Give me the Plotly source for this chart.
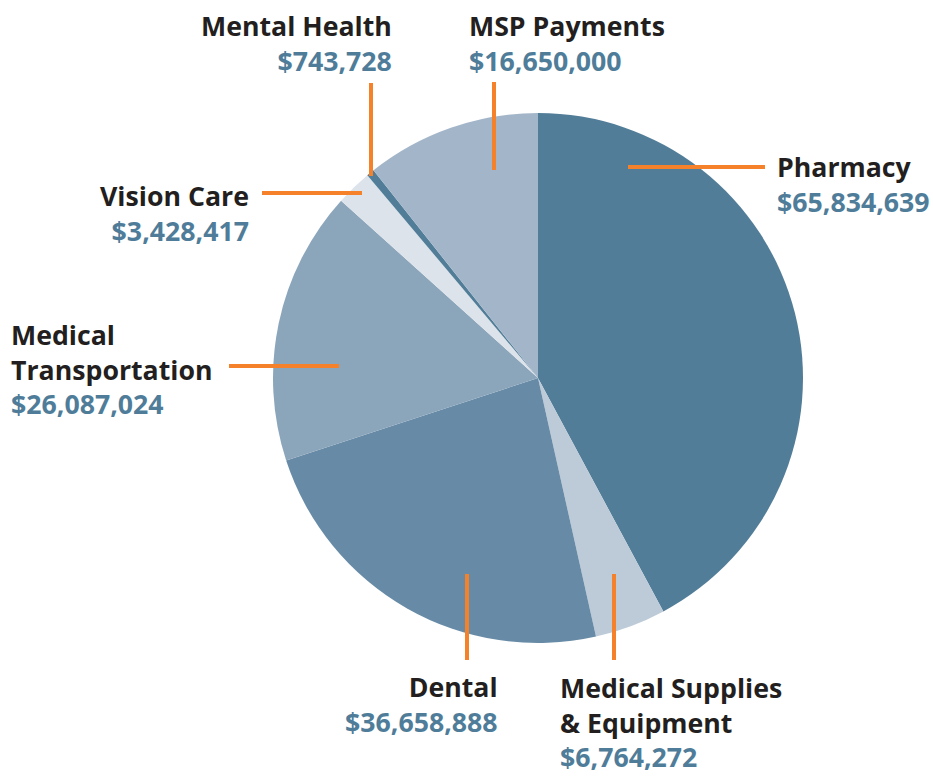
import plotly.graph_objects as go

W, H = 933, 776

categories = ["Pharmacy", "Medical Supplies<br>& Equipment", "Dental", "Medical<br>Transportation",
              "Vision Care", "Mental Health", "MSP Payments"]
values = [65834639, 6764272, 36658888, 26087024, 3428417, 743728, 16650000]
colors = ["#517d98", "#bdcbd9", "#678ba6", "#8ba5bb", "#dde3eb", "#517d98", "#a3b6c9"]

# label block placement (pixel): x, y-center, anchor
label_pos = [
    (775, 184, "left"),
    (558, 722, "left"),
    (500, 704, "right"),
    (9, 369, "left"),
    (251, 213, "right"),
    (394, 43, "right"),
    (467, 43, "left"),
]
# leader lines (pixel)
leaders = [
    ((628, 167), (765, 167)),
    ((614, 574), (614, 660)),
    ((467, 574), (467, 660)),
    ((229, 366), (339, 366)),
    ((262, 193), (362, 193)),
    ((371, 83), (371, 176)),
    ((494, 82), (494, 170)),
]

ORANGE = "#f5822a"
VALCOL = "#4f7d99"
TXTCOL = "#231f20"

def px(x):
    return x / W

def py(y):
    return 1 - y / H

cx, cy, r = 538, 378, 265

fig = go.Figure(go.Pie(
    labels=categories,
    values=values,
    marker=dict(colors=colors, line=dict(width=0)),
    sort=False,
    direction="clockwise",
    rotation=0,
    textinfo="none",
    hoverinfo="label+value",
    showlegend=False,
    domain=dict(x=[px(cx - r), px(cx + r)], y=[py(cy + r), py(cy - r)]),
))

annotations = []
for cat, val, (x, y, anc) in zip(categories, values, label_pos):
    text = f"<b>{cat}</b><br><span style='color:{VALCOL}'><b>${val:,}</b></span>"
    annotations.append(dict(
        x=px(x), y=py(y), xref="paper", yref="paper",
        xanchor=anc, yanchor="middle", align=anc,
        text=text, showarrow=False,
        font=dict(family="Open Sans", size=26.7, color=TXTCOL),
    ))

shapes = []
for (x0, y0), (x1, y1) in leaders:
    shapes.append(dict(type="line", xref="paper", yref="paper",
                       x0=px(x0), y0=py(y0), x1=px(x1), y1=py(y1),
                       line=dict(color=ORANGE, width=4)))

fig.update_layout(
    width=W, height=H,
    margin=dict(l=0, r=0, t=0, b=0),
    paper_bgcolor="white",
    plot_bgcolor="white",
    annotations=annotations,
    shapes=shapes,
    font=dict(family="Open Sans"),
)

fig.write_html(
    "out.html",
    config={"displayModeBar": False},
    post_script="document.body.style.margin='0';document.body.style.overflow='hidden';",
)
